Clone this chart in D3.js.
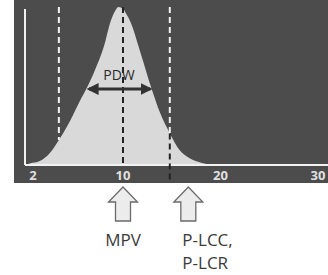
<!DOCTYPE html>
<html>
<head>
<meta charset="utf-8">
<script src="https://cdn.jsdelivr.net/npm/d3@7"></script>
<style>
  html, body { margin: 0; padding: 0; background: #fff; }
  svg { display: block; }
</style>
</head>
<body>
<div id="chart"></div>
<script>
// platelet volume histogram (fL on x, relative count on y)
const volumes = [0, 1.2, 2.6, 3.5, 4.3, 5.0, 6.2, 6.8, 7.5, 8.3, 8.9, 9.3, 9.6, 10.0, 10.3, 10.8, 11.7, 13.0, 13.8, 14.8, 15.8, 16.8, 18.1, 19.5, 25, 31];
const counts  = [0, 1, 2.5, 7.6, 15.8, 24, 41, 49, 60, 75, 91, 97.5, 100, 99, 96, 90, 73, 47, 33, 20, 9.5, 4.4, 1.3, 0, 0, 0];

const tickValues = [2, 10, 20, 30];
const lowerLimit = 4.3;   // dashed white line left
const mpv = 10;           // mean platelet volume
const upperLimit = 14.8;  // large cell threshold
const pdwRange = [6.8, 13.0];
const arrowTargets = [10, 16.7];
const arrowLabels = [["MPV"], ["P-LCC,", "P-LCR"]];

const width = 328, height = 275;

const svg = d3.select('#chart').append('svg')
  .attr('width', width)
  .attr('height', height);

// x axis is not quite linear near the origin
const x = d3.scaleLinear()
  .domain([0, 2, 10, 30])
  .range([25, 33, 123, 318]);
const y = d3.scaleLinear()
  .domain([0, 100])
  .range([165, 7]);

// dark panel
svg.append('rect')
  .attr('x', 14).attr('y', 0)
  .attr('width', width - 14).attr('height', 183)
  .attr('fill', '#4c4c4c');

const pts = volumes.map((v, i) => [v, counts[i]]);

const area = d3.area()
  .x(d => x(d[0]))
  .y0(y(0))
  .y1(d => y(d[1]))
  .curve(d3.curveMonotoneX);

svg.append('path')
  .datum(pts)
  .attr('d', area)
  .attr('fill', '#d9d9d9');

// find curve height at a volume
const curveAt = v => {
  const i = d3.bisectLeft(volumes, v);
  if (i <= 0) return counts[0];
  const t = (v - volumes[i - 1]) / (volumes[i] - volumes[i - 1]);
  return counts[i - 1] + t * (counts[i] - counts[i - 1]);
};

// axes
svg.append('line')
  .attr('x1', x(0)).attr('x2', width)
  .attr('y1', y(0)).attr('y2', y(0))
  .attr('stroke', '#f2f2f2').attr('stroke-width', 2);
svg.append('line')
  .attr('x1', x(0)).attr('x2', x(0))
  .attr('y1', 9).attr('y2', y(0))
  .attr('stroke', '#f2f2f2').attr('stroke-width', 2);

svg.append('g')
  .selectAll('text')
  .data(tickValues)
  .enter().append('text')
  .attr('x', d => x(d))
  .attr('y', 180)
  .attr('text-anchor', 'middle')
  .attr('font-family', 'Open Sans, sans-serif')
  .attr('font-weight', 'bold')
  .attr('font-size', '13px')
  .attr('fill', '#e0e0e0')
  .text(d => d);

// dashed lines: white above the curve, dark below it
const dash = '6,4';
function dashedLine(v, drawBelow) {
  const yc = y(curveAt(v));
  svg.append('line')
    .attr('x1', x(v)).attr('x2', x(v))
    .attr('y1', 7).attr('y2', yc)
    .attr('stroke', '#f2f2f2').attr('stroke-width', 2)
    .attr('stroke-dasharray', dash);
  if (drawBelow) {
    svg.append('line')
      .attr('x1', x(v)).attr('x2', x(v))
      .attr('y1', yc).attr('y2', 182)
      .attr('stroke', '#222').attr('stroke-width', 2)
      .attr('stroke-dasharray', dash);
  }
}
dashedLine(lowerLimit, false);
dashedLine(upperLimit, true);

svg.append('line')
  .attr('x1', x(mpv)).attr('x2', x(mpv))
  .attr('y1', 7).attr('y2', y(0))
  .attr('stroke', '#222').attr('stroke-width', 2)
  .attr('stroke-dasharray', dash);

// PDW double arrow
const defs = svg.append('defs');
defs.append('marker')
  .attr('id', 'head')
  .attr('viewBox', '0 0 10 10')
  .attr('refX', 8).attr('refY', 5)
  .attr('markerWidth', 4).attr('markerHeight', 4)
  .attr('orient', 'auto-start-reverse')
  .append('path')
  .attr('d', 'M0,0 L10,5 L0,10 z')
  .attr('fill', '#333');

svg.append('line')
  .attr('x1', x(pdwRange[0]) + 2).attr('x2', x(pdwRange[1]) - 2)
  .attr('y1', 89).attr('y2', 89)
  .attr('stroke', '#333').attr('stroke-width', 3)
  .attr('marker-start', 'url(#head)')
  .attr('marker-end', 'url(#head)');

svg.append('text')
  .attr('x', x(mpv) - 4)
  .attr('y', 80)
  .attr('text-anchor', 'middle')
  .attr('font-family', 'Open Sans, sans-serif')
  .attr('font-size', '14px')
  .attr('fill', '#2a2a2a')
  .text('PDW');

// hollow up-arrows below the axis
const arrowPath = cx => {
  const t = 187, hb = 202, b = 221;
  return `M${cx},${t} L${cx + 14.5},${hb} L${cx + 7.5},${hb} L${cx + 7.5},${b} ` +
         `L${cx - 7.5},${b} L${cx - 7.5},${hb} L${cx - 14.5},${hb} Z`;
};

arrowTargets.forEach((v, i) => {
  const cx = x(v);
  svg.append('path')
    .attr('d', arrowPath(cx))
    .attr('fill', '#ececec')
    .attr('stroke', '#6a6a6a')
    .attr('stroke-width', 1.3);

  const lines = arrowLabels[i];
  const txt = svg.append('text')
    .attr('font-family', 'Open Sans, sans-serif')
    .attr('font-size', '17px')
    .attr('fill', '#3a3a3a');
  lines.forEach((ln, j) => {
    txt.append('tspan')
      .attr('x', lines.length > 1 ? cx - 6 : cx)
      .attr('y', 246 + j * 23)
      .text(ln);
  });
  if (lines.length === 1) txt.attr('text-anchor', 'middle');
});
</script>
</body>
</html>
